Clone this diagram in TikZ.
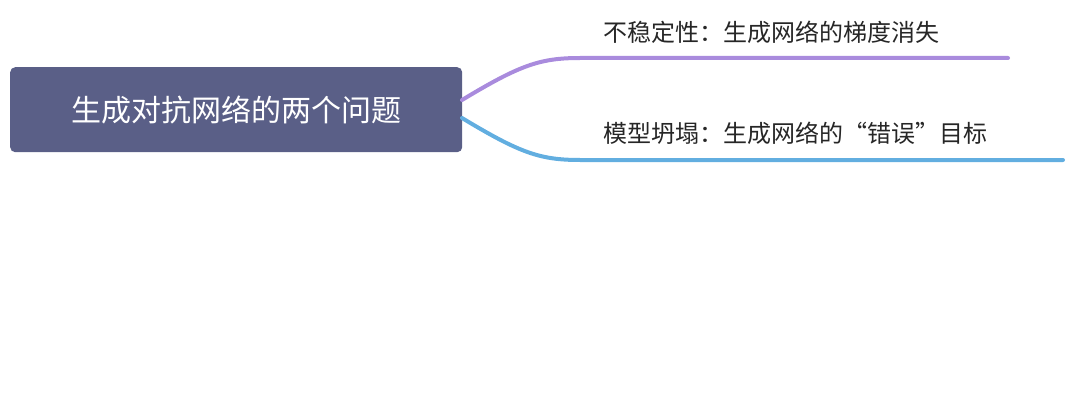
\documentclass[tikz,border=0pt]{standalone}
\usepackage{fontspec}
\newfontfamily\cjk{Noto Sans CJK SC}
\definecolor{rootc}{HTML}{5A5F87}
\definecolor{purp}{HTML}{A98BDD}
\definecolor{bluec}{HTML}{62AEE0}
\begin{document}
\begin{tikzpicture}[x=1pt,y=-1pt,
  branch/.style={line width=4pt,line cap=round},
  lbl/.style={anchor=west,inner sep=0pt,font=\cjk\fontsize{24}{28}\selectfont,text=black!85}]
\useasboundingbox (0,0) rectangle (1072,420);
\node[fill=rootc,rounded corners=5pt,minimum width=452pt,minimum height=85pt,anchor=north west,inner sep=0pt,text=white,font=\cjk\fontsize{30}{34}\selectfont] (root) at (10,67) {生成对抗网络的两个问题};
\coordinate (r1) at (462,100);
\coordinate (r2) at (462,118);
\coordinate (e1) at (1008,58);
\coordinate (e2) at (1063,160);
\node[lbl] (l1) at (603,32) {不稳定性：生成网络的梯度消失};
\node[lbl] (l2) at (603,133) {模型坍塌：生成网络的“错误”目标};
\draw[branch,purp] (r1) .. controls (520,65) and (540,58) .. (580,58) -- (e1);
\draw[branch,bluec] (r2) .. controls (520,153) and (540,160) .. (580,160) -- (e2);
\end{tikzpicture}
\end{document}
